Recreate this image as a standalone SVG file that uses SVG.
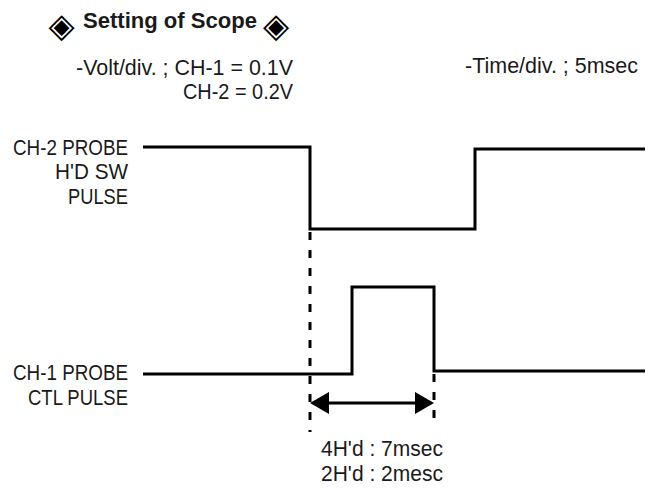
<svg xmlns="http://www.w3.org/2000/svg" width="655" height="488" viewBox="0 0 655 488">
<style>
text{font-family:"Liberation Sans",Arial,sans-serif;font-size:22px;fill:#1a1a1a}
.t{font-weight:bold;font-size:22px}
.g{font-family:"DejaVu Sans",sans-serif;font-size:34px;font-weight:bold;text-anchor:middle;fill:#000}
.w{fill:none;stroke:#000;stroke-width:3}
.d{fill:none;stroke:#000;stroke-width:3;stroke-dasharray:8,10}
</style>
<rect width="655" height="488" fill="#fff"/>
<g id="title">
<text class="g" x="61.5" y="37">◈</text>
<text class="t" x="83" y="28" textLength="174" lengthAdjust="spacingAndGlyphs">Setting of Scope</text>
<text class="g" x="276" y="37">◈</text>
</g>
<g id="settings">
<text x="76" y="75" textLength="217" lengthAdjust="spacingAndGlyphs">-Volt/div. ; CH-1 = 0.1V</text>
<text x="183" y="99" textLength="110" lengthAdjust="spacingAndGlyphs">CH-2 = 0.2V</text>
<text x="465" y="73" textLength="173" lengthAdjust="spacingAndGlyphs">-Time/div. ; 5msec</text>
</g>
<g id="ch2-label">
<text x="13" y="155" textLength="115" lengthAdjust="spacingAndGlyphs">CH-2 PROBE</text>
<text x="55" y="179" textLength="73" lengthAdjust="spacingAndGlyphs">H'D SW</text>
<text x="68" y="204" textLength="60" lengthAdjust="spacingAndGlyphs">PULSE</text>
</g>
<g id="ch1-label">
<text x="13" y="380" textLength="115" lengthAdjust="spacingAndGlyphs">CH-1 PROBE</text>
<text x="28" y="405" textLength="100" lengthAdjust="spacingAndGlyphs">CTL PULSE</text>
</g>
<g id="timing-label">
<text x="321" y="456" textLength="122" lengthAdjust="spacingAndGlyphs">4H'd : 7msec</text>
<text x="321" y="481" textLength="122" lengthAdjust="spacingAndGlyphs">2H'd : 2mesc</text>
</g>
<g id="connectors">
<polyline id="ch2-wave" class="w" points="143,147 310,147 310,229 475,229 475,149 645,149"/>
<polyline id="ch1-wave" class="w" points="143,374 352,374 352,287 434,287 434,371 645,371"/>
<line class="d" x1="310" y1="232" x2="310" y2="432"/>
<line class="d" x1="434" y1="374" x2="434" y2="428"/>
<line x1="326" y1="403" x2="418" y2="403" stroke="#000" stroke-width="3"/>
<polygon points="310,403 329,392 329,414" fill="#000"/>
<polygon points="434,403 415,392 415,414" fill="#000"/>
</g>
</svg>
